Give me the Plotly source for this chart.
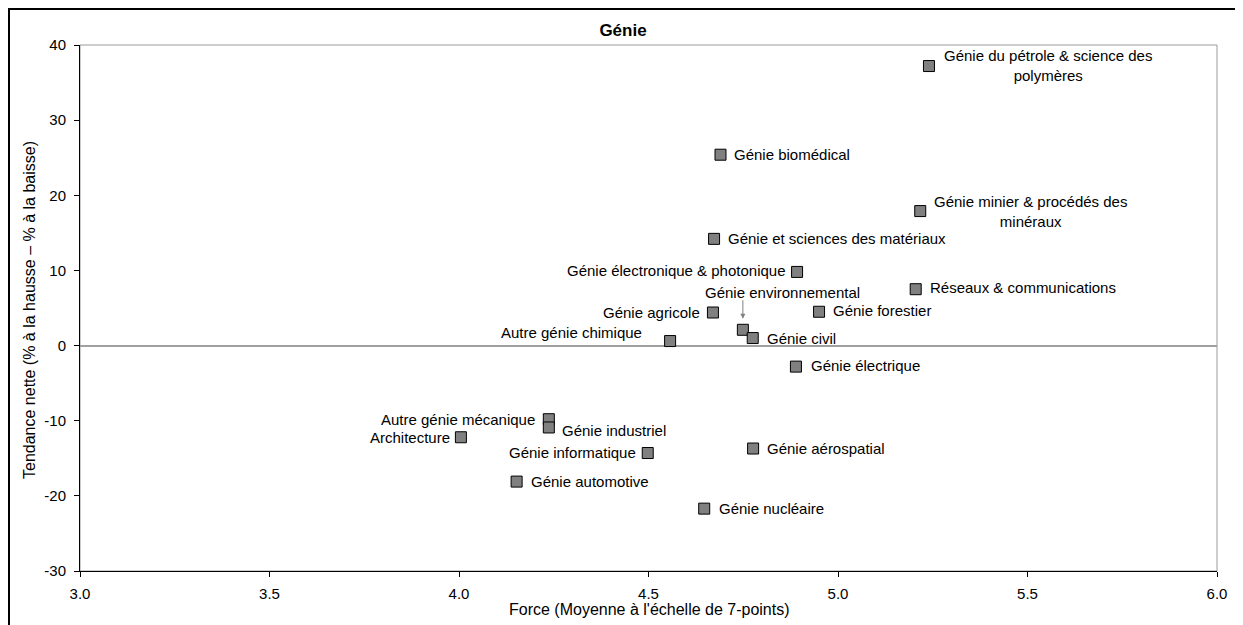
import plotly.graph_objects as go

# ---------------- data ----------------
categories = [
    "Génie du pétrole & science des polymères",
    "Génie biomédical",
    "Génie minier & procédés des minéraux",
    "Génie et sciences des matériaux",
    "Génie électronique & photonique",
    "Réseaux & communications",
    "Génie forestier",
    "Génie agricole",
    "Génie environnemental",
    "Génie civil",
    "Autre génie chimique",
    "Génie électrique",
    "Autre génie mécanique",
    "Génie industriel",
    "Architecture",
    "Génie aérospatial",
    "Génie informatique",
    "Génie automotive",
    "Génie nucléaire",
]
force = [5.24, 4.69, 5.217, 4.673, 4.892, 5.205, 4.95, 4.67, 4.749, 4.775,
         4.557, 4.889, 4.237, 4.237, 4.005, 4.776, 4.498, 4.152, 4.647]
tendance = [37.2, 25.4, 17.9, 14.2, 9.8, 7.5, 4.5, 4.4, 2.1, 1.0,
            0.6, -2.8, -9.8, -10.9, -12.2, -13.7, -14.3, -18.1, -21.7]

x_ticks = [3.0, 3.5, 4.0, 4.5, 5.0, 5.5, 6.0]
x_tick_labels = ["3.0", "3.5", "4.0", "4.5", "5.0", "5.5", "6.0"]
y_ticks = [-30, -20, -10, 0, 10, 20, 30, 40]
y_tick_labels = ["-30", "-20", "-10", "0", "10", "20", "30", "40"]

title_text = "Génie"
x_title = "Force (Moyenne à l'échelle de 7-points)"
y_title = "Tendance nette (% à la hausse – % à la baisse)"

# ---------------- styling ----------------
FONT = "Liberation Sans, Arial, sans-serif"
FS = 15
FS_AXIS_TITLE = 16

# label placement: (anchor side, dx px, dy px [down positive])
label_style = {
    "Génie du pétrole & science des polymères": ("left", 14, -1),
    "Génie biomédical": ("left", 12, 0),
    "Génie minier & procédés des minéraux": ("left", 13, 0),
    "Génie et sciences des matériaux": ("left", 12.5, 0),
    "Génie électronique & photonique": ("right", -10, -1),
    "Réseaux & communications": ("left", 13.5, -1.5),
    "Génie forestier": ("left", 12.5, -1),
    "Génie agricole": ("right", -12, 0),
    "Génie environnemental": ("left", -38.5, -37.5),
    "Génie civil": ("left", 13.3, 0),
    "Autre génie chimique": ("right", -27.5, -9),
    "Génie électrique": ("left", 14, -1),
    "Autre génie mécanique": ("right", -13, 0),
    "Génie industriel": ("left", 11.7, 3.3),
    "Architecture": ("right", -10.3, 0),
    "Génie aérospatial": ("left", 13, 0),
    "Génie informatique": ("right", -10.4, -0.6),
    "Génie automotive": ("left", 13.3, 0),
    "Génie nucléaire": ("left", 14, 0),
}
wrap = {
    "Génie du pétrole & science des polymères": "Génie du pétrole & science des<br>polymères",
    "Génie minier & procédés des minéraux": "Génie minier & procédés des<br>minéraux",
}
arrow_for = "Génie environnemental"

fig = go.Figure()
fig.add_trace(go.Scatter(
    x=force, y=tendance, mode="markers",
    marker=dict(symbol="square", size=11, color="#808080",
                line=dict(color="#000000", width=1)),
    text=categories, hoverinfo="text", showlegend=False,
))

annotations = []
for name, xv, yv in zip(categories, force, tendance):
    side, dx, dy = label_style[name]
    annotations.append(dict(
        x=xv, y=yv, xref="x", yref="y",
        text=wrap.get(name, name), showarrow=False,
        xanchor=side, yanchor="middle", align="center",
        xshift=dx, yshift=-dy, borderpad=0,
        font=dict(family=FONT, size=FS, color="#000000"),
    ))
    if name == arrow_for:
        annotations.append(dict(
            x=xv, y=yv, xref="x", yref="y", text="",
            showarrow=True, ax=0, ay=-31, standoff=11,
            arrowhead=2, arrowsize=1, arrowwidth=1, arrowcolor="#808080",
        ))

# axis titles
annotations.append(dict(
    text=x_title, xref="paper", yref="paper", x=0.5, y=0,
    xanchor="center", yanchor="middle", yshift=-38, xshift=1,
    showarrow=False, font=dict(family=FONT, size=FS_AXIS_TITLE, color="#000000"),
))
annotations.append(dict(
    text=y_title, xref="paper", yref="paper", x=0, y=0.5,
    xanchor="center", yanchor="middle", xshift=-51, yshift=-2, textangle=-90,
    showarrow=False, font=dict(family=FONT, size=FS_AXIS_TITLE, color="#000000"),
))

# page body adds an 8px offset; figure coords = screen coords - 8
W, H = 1243, 625
ml, mr, mt, mb = 72, 34, 37, 62
pw, ph = W - ml - mr, H - mt - mb

def px_to_paper_x(px):
    return (px - ml) / pw

def px_to_paper_y(py):
    return (H - mb - py) / ph

shapes = [
    # plot area frame (gray top/right)
    dict(type="rect", xref="paper", yref="paper", x0=0, x1=1, y0=0, y1=1,
         line=dict(color="#9a9a9a", width=1), layer="below"),
    # outer chart border
    dict(type="rect", xref="paper", yref="paper",
         x0=px_to_paper_x(1), x1=px_to_paper_x(1230),
         y0=px_to_paper_y(640), y1=px_to_paper_y(1),
         line=dict(color="#000000", width=2), layer="above"),
]

fig.update_layout(
    width=W, height=H,
    margin=dict(l=ml, r=mr, t=mt, b=mb, autoexpand=False),
    paper_bgcolor="#ffffff", plot_bgcolor="#ffffff",
    font=dict(family=FONT, size=FS, color="#000000"),
    title=dict(text=title_text, x=615 / W, xref="container", xanchor="center",
               y=1 - 22 / H, yref="container", yanchor="middle",
               font=dict(family=FONT, size=17, color="#000000", weight="bold")),
    xaxis=dict(range=[3, 6], tickvals=x_ticks, ticktext=x_tick_labels,
               showline=True, linecolor="#000000", linewidth=1,
               ticks="outside", ticklen=5, tickcolor="#000000",
               showgrid=False, zeroline=False, ticklabelstandoff=4,
               tickfont=dict(family=FONT, size=FS, color="#000000")),
    yaxis=dict(range=[-30, 40], tickvals=y_ticks, ticktext=y_tick_labels,
               showline=True, linecolor="#000000", linewidth=1,
               ticks="outside", ticklen=5, tickcolor="#000000",
               showgrid=False, zeroline=True, zerolinecolor="#a0a0a0",
               zerolinewidth=1.5, ticklabelstandoff=5,
               tickfont=dict(family=FONT, size=FS, color="#000000")),
    annotations=annotations,
    shapes=shapes,
)

fig.write_html("out.html")
